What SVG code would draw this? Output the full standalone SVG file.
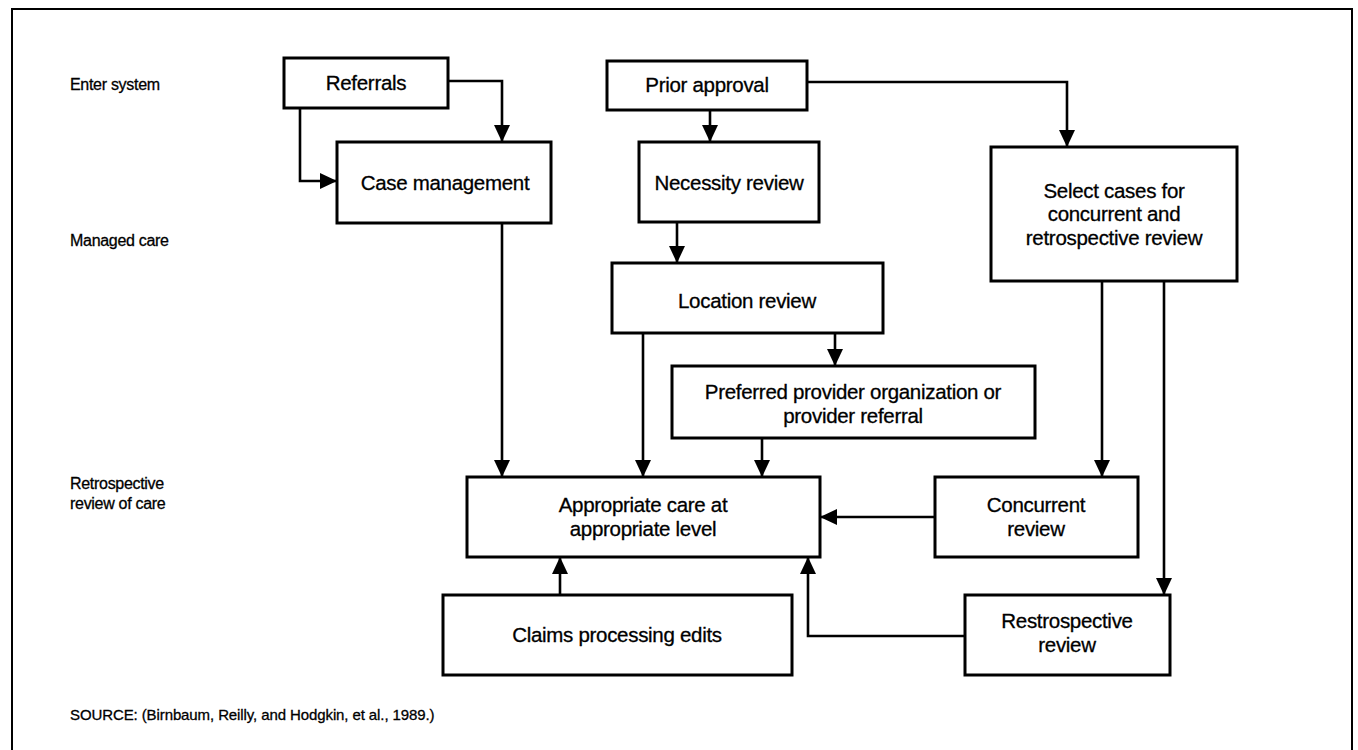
<svg xmlns="http://www.w3.org/2000/svg" width="1358" height="750" viewBox="0 0 1358 750">
<style>
.box{fill:#fff;stroke:#000;stroke-width:3}
.ln{fill:none;stroke:#000;stroke-width:2.6}
text{font-family:"Liberation Sans",Arial,sans-serif;fill:#000;stroke:#000;stroke-width:0.3}
.bt{font-size:20.5px;text-anchor:middle;letter-spacing:-0.3px}
.lb{font-size:16px;letter-spacing:-0.3px}
.src{font-size:15px;letter-spacing:-0.1px}
</style>
<defs>
<marker id="ah" markerWidth="17" markerHeight="16" refX="17" refY="8" orient="auto" markerUnits="userSpaceOnUse">
<path d="M0,0 L17,8 L0,16 Z" fill="#000"/>
</marker>
</defs>
<rect x="0" y="0" width="1358" height="750" fill="#fff"/>
<path d="M12,760 L12,9 L1352,9 L1352,760" fill="none" stroke="#000" stroke-width="2"/>
<g id="labels">
<text class="lb" x="70" y="90">Enter system</text>
<text class="lb" x="70" y="246">Managed care</text>
<text class="lb" x="70" y="489">Retrospective</text>
<text class="lb" x="70" y="509">review of care</text>
<text class="src" x="70" y="720">SOURCE: (Birnbaum, Reilly, and Hodgkin, et al., 1989.)</text>
</g>
<g id="connectors">
<path class="ln" d="M448,81 L502,81 L502,142" marker-end="url(#ah)"/>
<path class="ln" d="M300,108 L300,181 L337,181" marker-end="url(#ah)"/>
<path class="ln" d="M710,110 L710,142" marker-end="url(#ah)"/>
<path class="ln" d="M807,82 L1067,82 L1067,147" marker-end="url(#ah)"/>
<path class="ln" d="M677,222 L677,263" marker-end="url(#ah)"/>
<path class="ln" d="M835,333 L835,366" marker-end="url(#ah)"/>
<path class="ln" d="M502,223 L502,477" marker-end="url(#ah)"/>
<path class="ln" d="M643,333 L643,477" marker-end="url(#ah)"/>
<path class="ln" d="M762,438 L762,477" marker-end="url(#ah)"/>
<path class="ln" d="M1102,281 L1102,477" marker-end="url(#ah)"/>
<path class="ln" d="M1164,281 L1164,595" marker-end="url(#ah)"/>
<path class="ln" d="M935,517 L820,517" marker-end="url(#ah)"/>
<path class="ln" d="M560,595 L560,557" marker-end="url(#ah)"/>
<path class="ln" d="M965,636 L808,636 L808,557" marker-end="url(#ah)"/>
</g>
<g id="referrals"><rect class="box" x="284" y="58" width="164" height="50"/><text class="bt" x="366" y="90">Referrals</text></g>
<g id="prior-approval"><rect class="box" x="607" y="61" width="200" height="49"/><text class="bt" x="707" y="92">Prior approval</text></g>
<g id="case-management"><rect class="box" x="337" y="142" width="214" height="81"/><text class="bt" x="445" y="190">Case management</text></g>
<g id="necessity-review"><rect class="box" x="639" y="142" width="180" height="80"/><text class="bt" x="729" y="190">Necessity review</text></g>
<g id="select-cases"><rect class="box" x="991" y="147" width="246" height="134"/><text class="bt" x="1114" y="198">Select cases for</text><text class="bt" x="1114" y="221">concurrent and</text><text class="bt" x="1114" y="245">retrospective review</text></g>
<g id="location-review"><rect class="box" x="612" y="263" width="271" height="70"/><text class="bt" x="747" y="308">Location review</text></g>
<g id="ppo"><rect class="box" x="672" y="366" width="363" height="72"/><text class="bt" x="853" y="399">Preferred provider organization or</text><text class="bt" x="853" y="423">provider referral</text></g>
<g id="appropriate-care"><rect class="box" x="467" y="477" width="353" height="80"/><text class="bt" x="643" y="512">Appropriate care at</text><text class="bt" x="643" y="536">appropriate level</text></g>
<g id="concurrent-review"><rect class="box" x="935" y="477" width="203" height="80"/><text class="bt" x="1036" y="512">Concurrent</text><text class="bt" x="1036" y="536">review</text></g>
<g id="claims-processing"><rect class="box" x="443" y="595" width="349" height="80"/><text class="bt" x="617" y="642">Claims processing edits</text></g>
<g id="restrospective-review"><rect class="box" x="965" y="595" width="205" height="80"/><text class="bt" x="1067" y="628">Restrospective</text><text class="bt" x="1067" y="652">review</text></g>
</svg>
